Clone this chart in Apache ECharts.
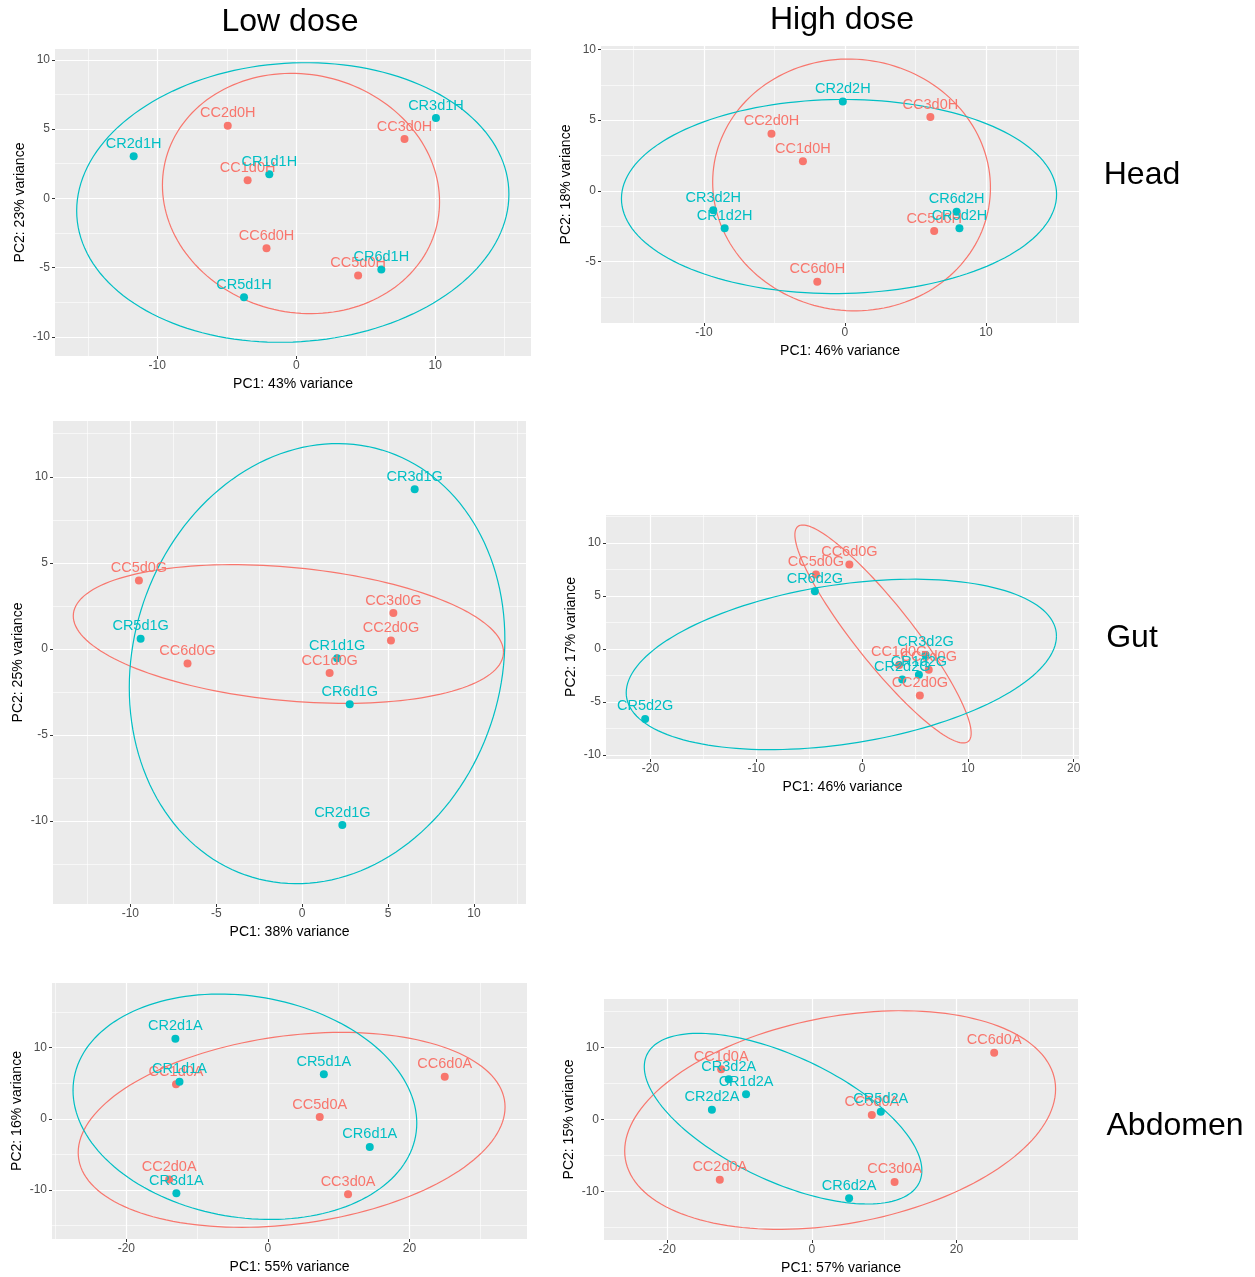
<!DOCTYPE html>
<html>
<head>
<meta charset="utf-8">
<script src="https://cdn.jsdelivr.net/npm/echarts@6/dist/echarts.min.js"></script>
<style>
  html,body{margin:0;padding:0;background:#fff;}
  #main{width:1255px;height:1277px;}
</style>
</head>
<body>
<div id="main"></div>
<script>
// ---- Low dose / Head
var headLowCCNames=['CC2d0H','CC3d0H','CC1d0H','CC6d0H','CC5d0H'];
var headLowCCPC1=[-4.93,7.79,-3.5,-2.14,4.45];
var headLowCCPC2=[5.24,4.28,1.3,-3.6,-5.58];
var headLowCRNames=['CR2d1H','CR3d1H','CR1d1H','CR6d1H','CR5d1H'];
var headLowCRPC1=[-11.7,10.05,-1.94,6.12,-3.76];
var headLowCRPC2=[3.05,5.8,1.75,-5.14,-7.14];
// ellipse: centre x, centre y, half width, half height, y offset at the right end
var headLowEllipses=[[0.34,0.35,9.97,8.68,-0.6],[-0.25,-0.3,15.55,10.1,0.6]];

// ---- High dose / Head
var headHighCCNames=['CC3d0H','CC2d0H','CC1d0H','CC5d0H','CC6d0H'];
var headHighCCPC1=[6.06,-5.21,-2.98,6.33,-1.96];
var headHighCCPC2=[5.22,4.04,2.1,-2.84,-6.43];
var headHighCRNames=['CR2d2H','CR3d2H','CR1d2H','CR6d2H','CR5d2H'];
var headHighCRPC1=[-0.15,-9.34,-8.53,7.92,8.12];
var headHighCRPC2=[6.31,-1.37,-2.65,-1.47,-2.65];
var headHighEllipses=[[0.47,0.42,9.85,8.9,-0.2],[-0.42,-0.4,15.43,6.86,0.15]];

// ---- Low dose / Gut
var gutLowCCNames=['CC5d0G','CC3d0G','CC2d0G','CC6d0G','CC1d0G'];
var gutLowCCPC1=[-9.5,5.31,5.17,-6.67,1.6];
var gutLowCCPC2=[3.97,2.08,0.49,-0.86,-1.41];
var gutLowCRNames=['CR3d1G','CR5d1G','CR1d1G','CR6d1G','CR2d1G'];
var gutLowCRPC1=[6.55,-9.4,2.04,2.77,2.34];
var gutLowCRPC2=[9.27,0.59,-0.55,-3.22,-10.24];
var gutLowEllipses=[[-0.8,0.86,12.52,4.03,-1.05],[0.87,-0.86,10.93,12.79,1.4]];

// ---- High dose / Gut
var gutHighCCNames=['CC6d0G','CC5d0G','CC1d0G','CC3d0G','CC2d0G'];
var gutHighCCPC1=[-1.2,-4.36,3.5,6.3,5.46];
var gutHighCCPC2=[7.97,7.02,-1.5,-1.95,-4.38];
var gutHighCRNames=['CR6d2G','CR5d2G','CR3d2G','CR1d2G','CR2d2G'];
var gutHighCRPC1=[-4.46,-20.5,6.0,5.37,3.8];
var gutHighCRPC2=[5.45,-6.58,-0.55,-2.43,-2.87];
var gutHighEllipses=[[1.98,1.42,8.33,10.27,-9.35],[-1.96,-1.45,20.33,8.03,2.67]];

// ---- Low dose / Abdomen
var abdLowCCNames=['CC1d0A','CC6d0A','CC5d0A','CC2d0A','CC3d0A'];
var abdLowCCPC1=[-12.98,24.98,7.32,-13.95,11.32];
var abdLowCCPC2=[4.85,5.93,0.24,-8.52,-10.59];
var abdLowCRNames=['CR2d1A','CR1d1A','CR5d1A','CR6d1A','CR3d1A'];
var abdLowCRPC1=[-13.07,-12.49,7.9,14.39,-12.93];
var abdLowCRPC2=[11.25,5.22,6.26,-3.95,-10.45];
var abdLowEllipses=[[3.35,-1.55,30.15,13.71,3.2],[-3.25,1.7,24.28,15.85,-2.3]];

// ---- High dose / Abdomen
var abdHighCCNames=['CC6d0A','CC1d0A','CC5d0A','CC2d0A','CC3d0A'];
var abdHighCCPC1=[25.21,-12.54,8.29,-12.73,11.44];
var abdHighCCPC2=[9.26,6.94,0.6,-8.38,-8.7];
var abdHighCRNames=['CR3d2A','CR1d2A','CR2d2A','CR5d2A','CR6d2A'];
var abdHighCRPC1=[-11.49,-9.1,-13.82,9.53,5.15];
var abdHighCRPC2=[5.56,3.47,1.34,1.06,-10.97];
var abdHighEllipses=[[3.91,-0.1,29.79,15.18,4.3],[-3.98,0.09,19.19,11.85,-7.2]];

// axis ranges and breaks
var headLowXRange=[-17.36,16.89], headLowYRange=[-11.39,10.79];
var headHighXRange=[-17.3,16.6], headHighYRange=[-9.34,10.24];
var gutLowXRange=[-14.5,13.03], gutLowYRange=[-14.83,13.24];
var gutHighXRange=[-24.2,20.5], gutHighYRange=[-10.36,12.63];
var abdLowXRange=[-30.5,36.6], abdLowYRange=[-16.9,19.1];
var abdHighXRange=[-28.74,36.8], abdHighYRange=[-16.76,16.71];

var headLowXTicks=[-10,0,10], headLowYTicks=[-10,-5,0,5,10];
var headHighXTicks=[-10,0,10], headHighYTicks=[-5,0,5,10];
var gutLowXTicks=[-10,-5,0,5,10], gutLowYTicks=[-10,-5,0,5,10];
var gutHighXTicks=[-20,-10,0,10,20], gutHighYTicks=[-10,-5,0,5,10];
var abdLowXTicks=[-20,0,20], abdLowYTicks=[-10,0,10];
var abdHighXTicks=[-20,0,20], abdHighYTicks=[-10,0,10];

var headLowXMinor=[-15,-5,5,15], headLowYMinor=[-7.5,-2.5,2.5,7.5];
var headHighXMinor=[-15,-5,5,15], headHighYMinor=[-7.5,-2.5,2.5,7.5];
var gutLowXMinor=[-12.5,-7.5,-2.5,2.5,7.5,12.5], gutLowYMinor=[-12.5,-7.5,-2.5,2.5,7.5,12.5];
var gutHighXMinor=[-15,-5,5,15], gutHighYMinor=[-7.5,-2.5,2.5,7.5,12.5];
var abdLowXMinor=[-30,-10,10,30], abdLowYMinor=[-15,-5,5,15];
var abdHighXMinor=[-10,10,30], abdHighYMinor=[-15,-5,5,15];

var pc1Names=['PC1: 43% variance','PC1: 46% variance','PC1: 38% variance','PC1: 46% variance','PC1: 55% variance','PC1: 57% variance'];
var pc2Names=['PC2: 23% variance','PC2: 18% variance','PC2: 25% variance','PC2: 17% variance','PC2: 16% variance','PC2: 15% variance'];

var RED='#F8766D', CYAN='#00BFC4';
var FONT='Liberation Sans, Arial, sans-serif';

var panels=[
  {grid:{left:55,top:49,width:476,height:307},
   cc:[headLowCCNames,headLowCCPC1,headLowCCPC2], cr:[headLowCRNames,headLowCRPC1,headLowCRPC2], ell:headLowEllipses,
   xr:headLowXRange, yr:headLowYRange, xt:headLowXTicks, yt:headLowYTicks, xm:headLowXMinor, ym:headLowYMinor},
  {grid:{left:601,top:46,width:478,height:277},
   cc:[headHighCCNames,headHighCCPC1,headHighCCPC2], cr:[headHighCRNames,headHighCRPC1,headHighCRPC2], ell:headHighEllipses,
   xr:headHighXRange, yr:headHighYRange, xt:headHighXTicks, yt:headHighYTicks, xm:headHighXMinor, ym:headHighYMinor},
  {grid:{left:53,top:421,width:473,height:483},
   cc:[gutLowCCNames,gutLowCCPC1,gutLowCCPC2], cr:[gutLowCRNames,gutLowCRPC1,gutLowCRPC2], ell:gutLowEllipses,
   xr:gutLowXRange, yr:gutLowYRange, xt:gutLowXTicks, yt:gutLowYTicks, xm:gutLowXMinor, ym:gutLowYMinor},
  {grid:{left:606,top:515,width:473,height:244},
   cc:[gutHighCCNames,gutHighCCPC1,gutHighCCPC2], cr:[gutHighCRNames,gutHighCRPC1,gutHighCRPC2], ell:gutHighEllipses,
   xr:gutHighXRange, yr:gutHighYRange, xt:gutHighXTicks, yt:gutHighYTicks, xm:gutHighXMinor, ym:gutHighYMinor},
  {grid:{left:52,top:983,width:475,height:256},
   cc:[abdLowCCNames,abdLowCCPC1,abdLowCCPC2], cr:[abdLowCRNames,abdLowCRPC1,abdLowCRPC2], ell:abdLowEllipses,
   xr:abdLowXRange, yr:abdLowYRange, xt:abdLowXTicks, yt:abdLowYTicks, xm:abdLowXMinor, ym:abdLowYMinor},
  {grid:{left:604,top:999,width:474,height:241},
   cc:[abdHighCCNames,abdHighCCPC1,abdHighCCPC2], cr:[abdHighCRNames,abdHighCRPC1,abdHighCRPC2], ell:abdHighEllipses,
   xr:abdHighXRange, yr:abdHighYRange, xt:abdHighXTicks, yt:abdHighYTicks, xm:abdHighXMinor, ym:abdHighYMinor}
];

function makeEllipseRenderer(color){
  return function(params,api){
    var cx=api.value(0),cy=api.value(1),w=api.value(2),h=api.value(3),dy=api.value(4);
    var k=Math.sqrt(h*h-dy*dy);
    var pts=[];
    for(var i=0;i<=160;i++){
      var t=i/160*2*Math.PI;
      pts.push(api.coord([cx+w*Math.cos(t),cy+dy*Math.cos(t)+k*Math.sin(t)]));
    }
    return {type:'polyline',shape:{points:pts},style:{stroke:color,fill:null,lineWidth:1.2}};
  };
}

function pointData(g){
  var out=[];
  for(var i=0;i<g[0].length;i++) out.push([g[1][i],g[2][i],g[0][i]]);
  return out;
}

var grids=[],xAxes=[],yAxes=[],series=[];
panels.forEach(function(p,i){
  grids.push({left:p.grid.left,top:p.grid.top,width:p.grid.width,height:p.grid.height,
    show:true,backgroundColor:'#EBEBEB',borderWidth:0,containLabel:false});
  var axisCommon={type:'value',gridIndex:i,axisLine:{show:false,onZero:false},splitLine:{show:false},
    nameLocation:'middle',nameTextStyle:{color:'#000',fontSize:14,fontFamily:FONT}};
  xAxes.push(Object.assign({},axisCommon,{min:p.xr[0],max:p.xr[1],name:pc1Names[i],nameGap:21,
    axisTick:{show:true,length:3,customValues:p.xt,lineStyle:{color:'#333333'}},
    axisLabel:{customValues:p.xt,color:'#4D4D4D',fontSize:12,fontFamily:FONT,margin:4}}));
  yAxes.push(Object.assign({},axisCommon,{min:p.yr[0],max:p.yr[1],name:pc2Names[i],nameGap:28,
    axisTick:{show:true,length:3,customValues:p.yt,lineStyle:{color:'#333333'}},
    axisLabel:{customValues:p.yt,color:'#4D4D4D',fontSize:12,fontFamily:FONT,margin:5}}));

  // white panel grid: minor then major lines at the ggplot breaks
  var gl=[];
  p.xm.forEach(function(v){gl.push({xAxis:v,lineStyle:{width:0.6}});});
  p.ym.forEach(function(v){gl.push({yAxis:v,lineStyle:{width:0.6}});});
  p.xt.forEach(function(v){gl.push({xAxis:v,lineStyle:{width:1.2}});});
  p.yt.forEach(function(v){gl.push({yAxis:v,lineStyle:{width:1.2}});});
  series.push({type:'line',xAxisIndex:i,yAxisIndex:i,z:1,silent:true,data:[],
    markLine:{silent:true,z:1,symbol:['none','none'],label:{show:false},animation:false,
      lineStyle:{color:'#ffffff',type:'solid'},emphasis:{disabled:true},data:gl}});

  series.push({type:'custom',xAxisIndex:i,yAxisIndex:i,z:8,silent:true,
    renderItem:makeEllipseRenderer(RED),data:[p.ell[0]],encode:{x:0,y:1}});
  series.push({type:'custom',xAxisIndex:i,yAxisIndex:i,z:8,silent:true,
    renderItem:makeEllipseRenderer(CYAN),data:[p.ell[1]],encode:{x:0,y:1}});

  [[p.cc,RED],[p.cr,CYAN]].forEach(function(g){
    series.push({type:'scatter',xAxisIndex:i,yAxisIndex:i,z:10,silent:true,
      symbolSize:8,itemStyle:{color:g[1],opacity:1},
      data:pointData(g[0]),
      label:{show:true,position:'top',distance:1,color:g[1],fontSize:14.5,fontFamily:FONT,
        formatter:function(prm){return prm.data[2];}}
    });
  });
});

var bigText=[
  ['Low dose',290,22],['High dose',842,20],
  ['Head',1142,175],['Gut',1132,638],['Abdomen',1175,1126]
];
var graphics=bigText.map(function(t){
  return {type:'text',x:t[1],y:t[2],style:{text:t[0],fill:'#000',fontSize:32,fontFamily:FONT,
    align:'center',verticalAlign:'middle'}};
});

var chart=echarts.init(document.getElementById('main'),null,{renderer:'canvas'});
chart.setOption({
  animation:false,
  backgroundColor:'#ffffff',
  grid:grids,
  xAxis:xAxes,
  yAxis:yAxes,
  series:series,
  graphic:graphics
});
</script>
</body>
</html>
